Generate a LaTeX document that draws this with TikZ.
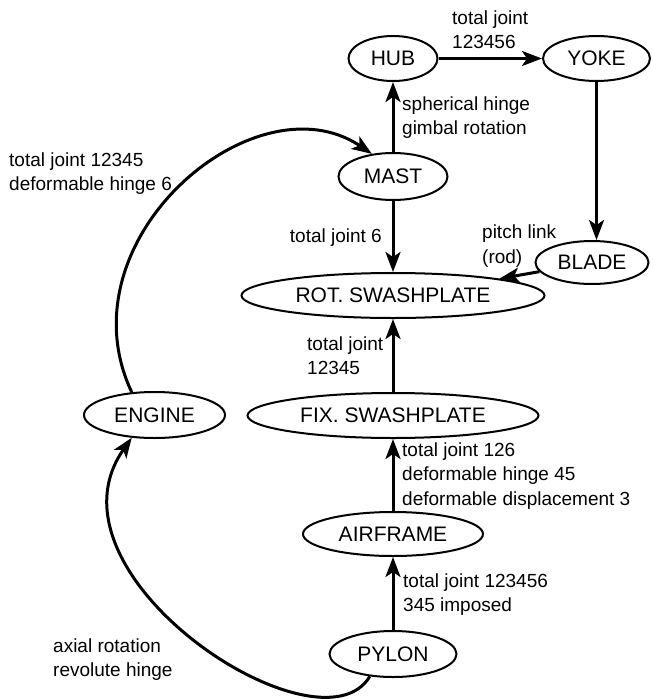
\documentclass[tikz,border=0pt]{standalone}
\usepackage{fontspec}
\setmainfont{Liberation Sans}
\usetikzlibrary{shapes.geometric,arrows.meta}
\begin{document}
\begin{tikzpicture}[x=1pt,y=-1pt,
  part/.style={ellipse,draw,line width=2pt,inner sep=0pt,minimum height=45pt,font=\fontsize{21}{24}\selectfont},
  edge/.style={line width=3pt,-{Stealth[length=20pt,width=15pt,inset=5pt]}},
  lbl/.style={anchor=base west,align=left,inner sep=0pt,font=\fontsize{19}{24.5}\selectfont}]
\useasboundingbox (0,0) rectangle (653,699);
\node[part,minimum width=89pt]  (HUB)    at (393,58.5)  {HUB};
\node[part,minimum width=107pt] (YOKE)   at (596.5,58.5) {YOKE};
\node[part,minimum width=109pt,minimum height=47pt] (MAST) at (393,176.5) {MAST};
\node[part,minimum width=113pt,minimum height=43pt] (BLADE) at (592,262.5) {BLADE};
\node[part,minimum width=303pt] (ROT)    at (393,295.5) {ROT. SWASHPLATE};
\node[part,minimum width=291pt] (FIX)    at (393,415.5) {FIX. SWASHPLATE};
\node[part,minimum width=141pt,minimum height=46pt] (ENGINE) at (154.5,415) {ENGINE};
\node[part,minimum width=180pt,minimum height=44pt] (AIRFRAME) at (393,534) {AIRFRAME};
\node[part,minimum width=127pt,minimum height=46pt] (PYLON) at (393,654) {PYLON};

\draw[edge] (HUB) -- (YOKE);
\draw[edge] (MAST) -- (HUB);
\draw[edge] (YOKE.south) -- (YOKE.south |- BLADE.north);
\draw[edge] (MAST) -- (ROT);
\draw[edge] (BLADE) -- (ROT.9);
\draw[edge] (FIX) -- (ROT);
\draw[edge] (AIRFRAME) -- (FIX);
\draw[edge] (PYLON) -- (AIRFRAME);
\draw[edge] (ENGINE.135) .. controls (60,240) and (255,75) .. (MAST.133);
\draw[edge] (PYLON.224) .. controls (320,760) and (35,575) .. (ENGINE.225);

\node[lbl] (l1) at (452,48.5) {total joint\\123456};
\node[lbl] (l2) at (402,134.5) {spherical hinge\\gimbal rotation};
\node[lbl,anchor=base east] (l3) at (382,242) {total joint 6};
\node[lbl] (l4) at (482,263) {pitch link\\(rod)};
\node[lbl] (l5) at (307,374.5) {total joint\\12345};
\node[lbl] (l6) at (402,505) {total joint 126\\deformable hinge 45\\deformable displacement 3};
\node[lbl] (l7) at (403,611.5) {total joint 123456\\345 imposed};
\node[lbl] (l8) at (9,190.5) {total joint 12345\\deformable hinge 6};
\node[lbl] (l9) at (53,676.5) {axial rotation\\revolute hinge};
\end{tikzpicture}
\end{document}
